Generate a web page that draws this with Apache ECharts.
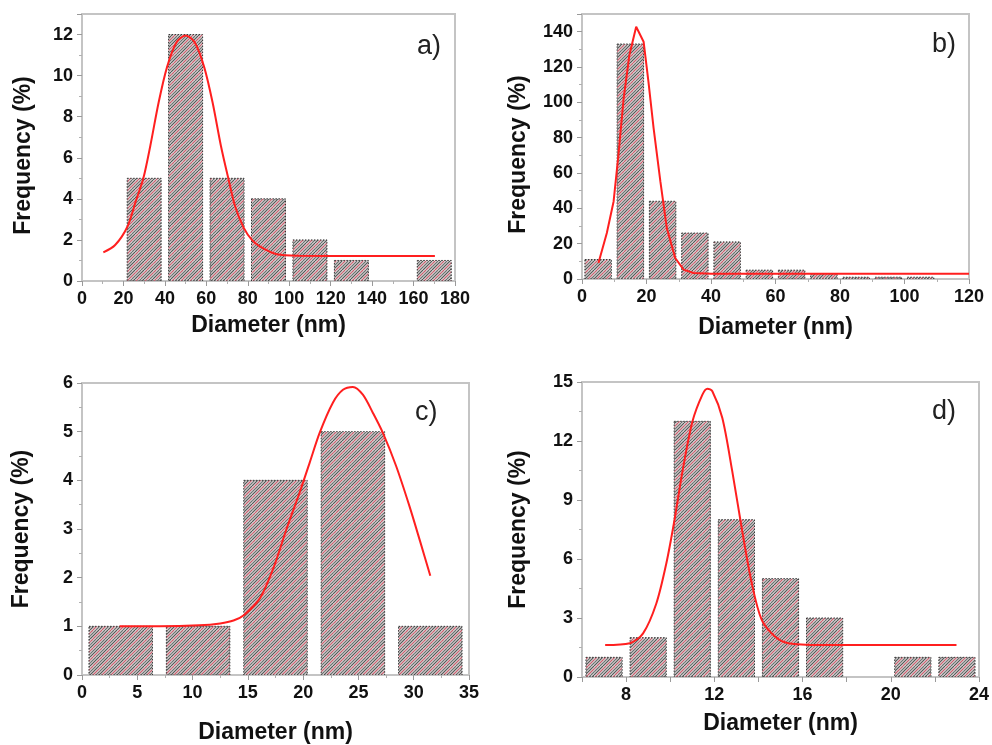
<!DOCTYPE html>
<html>
<head>
<meta charset="utf-8">
<title>Particle size distributions</title>
<script src="https://cdn.jsdelivr.net/npm/echarts@6/dist/echarts.min.js"></script>
<style>
  html, body { margin: 0; padding: 0; background: #ffffff; }
  #chart { width: 992px; height: 745px; }
</style>
</head>
<body>
<div id="chart"></div>
<script>
// ---- Histogram data: bin centres (nm) and frequency (%) ----
const binsA = [30, 50, 70, 90, 110, 130, 150, 170];
const freqA = [5, 12, 5, 4, 2, 1, 0, 1];

const binsB = [5, 15, 25, 35, 45, 55, 65, 75, 85, 95, 105];
const freqB = [11, 133, 44, 26, 21, 5, 5, 3, 1, 1, 1];

const binsC = [3.5, 10.5, 17.5, 24.5, 31.5];
const freqC = [1, 1, 4, 5, 1];

const binsD = [7, 9, 11, 13, 15, 17, 19, 21, 23];
const freqD = [1, 2, 13, 8, 5, 3, 0, 1, 1];

// ---- Fitted distribution curves, [diameter, frequency] ----
const fitA = [[10.3, 1.39], [16, 1.75], [21.9, 2.64], [26, 3.9], [29.6, 5.0],
  [33, 6.6], [37, 8.7], [41, 10.4], [45.5, 11.6], [50, 11.95], [54.5, 11.6], [59, 10.4],
  [63, 8.7], [67, 6.6], [70.6, 5.0], [74, 3.6], [78, 2.6], [82, 2.0], [86, 1.67],
  [94, 1.3], [105, 1.23], [130, 1.22], [170.3, 1.22]];

const fitB = [[5.1, 9], [7.7, 26], [9.8, 43.9], [11.3, 70.3], [12.9, 102], [14.7, 126.8],
  [16.8, 142.8], [19.1, 134.3], [20.6, 111.7], [22.2, 85.4], [24.3, 55.2], [26.3, 28.8],
  [28.9, 11.9], [31.5, 5.3], [34.6, 3.4], [40, 3], [120, 3]];

const fitC = [[3.4, 1.0], [7, 1.0], [10.6, 1.02], [12.5, 1.06], [13.7, 1.12], [14.7, 1.24],
  [16.1, 1.58], [17.3, 2.19], [18.5, 3.0], [19.7, 3.76], [20.6, 4.37], [21.5, 4.98],
  [22.7, 5.6], [23.6, 5.86], [24.5, 5.92], [25.4, 5.76], [26.3, 5.39], [27.2, 4.98],
  [28.4, 4.3], [29.6, 3.48], [30.6, 2.73], [31.5, 2.04]];

const fitD = [[7.05, 1.63], [8.17, 1.72], [8.77, 2.22], [9.37, 3.74], [9.82, 5.76],
  [10.19, 7.96], [10.56, 10.48], [11.01, 13.0], [11.46, 14.36], [11.69, 14.66],
  [11.91, 14.53], [12.36, 13.18], [12.81, 10.48], [13.26, 7.45], [13.7, 4.75],
  [14.15, 2.9], [14.75, 2.06], [15.35, 1.72], [16.85, 1.63], [22.98, 1.63]];

// ---- Axis text ----
const xTitle = 'Diameter (nm)';
const yTitle = 'Frequency (%)';
const panelTags = ['a)', 'b)', 'c)', 'd)'];

const FONT = '"Liberation Sans", Arial, Helvetica, sans-serif';
const FRAME = '#c4c4c4';
const BAR_FRACTION = 0.82;

// Diagonal hatch used to fill the bars: grey and red strokes on a light ground
function makeHatch() {
  const s = 9;
  const cv = document.createElement('canvas');
  cv.width = s; cv.height = s;
  const g = cv.getContext('2d');
  g.fillStyle = '#dcdcdc';
  g.fillRect(0, 0, s, s);
  const strokes = [[0, '#505050'], [3, '#cc5a6a'], [6, '#6a6a6a']];
  g.lineWidth = 1.1;
  strokes.forEach(([o, col]) => {
    g.strokeStyle = col;
    [-s, 0, s].forEach(sh => {
      g.beginPath();
      g.moveTo(o + sh, s);
      g.lineTo(o + sh + s, 0);
      g.stroke();
    });
  });
  return { image: cv, repeat: 'repeat' };
}
const hatch = makeHatch();

function pairs(xs, ys) { return xs.map((x, i) => [x, ys[i]]); }

function barRenderer(binWidth) {
  return function (params, api) {
    const c = api.value(0), v = api.value(1);
    if (!v) return null;
    const half = binWidth * BAR_FRACTION / 2;
    const p0 = api.coord([c - half, v]);
    const p1 = api.coord([c + half, 0]);
    return {
      type: 'rect',
      shape: { x: p0[0], y: p0[1], width: p1[0] - p0[0], height: p1[1] - p0[1] },
      style: { fill: hatch, stroke: '#333333', lineWidth: 1, lineDash: [1.5, 1.5] }
    };
  };
}

function xAxisCfg(gi, min, max, interval, every, gap, minor) {
  return {
    type: 'value', gridIndex: gi, min, max, interval,
    name: xTitle, nameLocation: 'middle', nameGap: gap,
    nameTextStyle: { fontFamily: FONT, fontWeight: 'bold', fontSize: 23, color: '#111' },
    axisLine: { show: true, onZero: false, lineStyle: { color: FRAME, width: 2 } },
    axisTick: { show: true, inside: false, length: 5, lineStyle: { color: '#9a9a9a', width: 1 } },
    minorTick: { show: minor, splitNumber: 2, length: 3, lineStyle: { color: '#b0b0b0' } },
    splitLine: { show: false },
    axisLabel: {
      margin: 9, fontFamily: FONT, fontWeight: 'bold', fontSize: 18, color: '#111',
      showMaxLabel: true, showMinLabel: true,
      formatter: v => (Math.abs(v / every - Math.round(v / every)) < 1e-6 ? String(v) : '')
    }
  };
}

function yAxisCfg(gi, max, interval, gap, pad) {
  return {
    type: 'value', gridIndex: gi, min: 0, max, interval,
    name: yTitle, nameLocation: 'middle', nameGap: gap, nameRotate: 90,
    nameTextStyle: { fontFamily: FONT, fontWeight: 'bold', fontSize: 23, color: '#111', padding: pad },
    axisLine: { show: true, lineStyle: { color: FRAME, width: 2 } },
    axisTick: { show: true, inside: false, length: 5, lineStyle: { color: '#9a9a9a', width: 1 } },
    minorTick: { show: true, splitNumber: 2, length: 3, lineStyle: { color: '#b0b0b0' } },
    splitLine: { show: false },
    axisLabel: {
      margin: 9, fontFamily: FONT, fontWeight: 'bold', fontSize: 18, color: '#111',
      formatter: v => (Math.abs(v / interval - Math.round(v / interval)) < 1e-6 ? String(v) : '')
    }
  };
}

function gridCfg(left, top, width, height) {
  return { left, top, width, height, show: true, borderColor: FRAME, borderWidth: 2, containLabel: false };
}

function histSeries(idx, data, binWidth) {
  return {
    type: 'custom', xAxisIndex: idx, yAxisIndex: idx, data,
    renderItem: barRenderer(binWidth), clip: true, z: 2, silent: true
  };
}

function fitSeries(idx, data, smooth) {
  return {
    type: 'line', xAxisIndex: idx, yAxisIndex: idx, data,
    smooth, showSymbol: false, symbol: 'none', z: 5, silent: true,
    lineStyle: { color: '#ff1f1f', width: 2 }
  };
}

function tag(text, left, top) {
  return {
    type: 'text', left, top, z: 10,
    style: { text, fontFamily: FONT, fontSize: 27, fill: '#222' }
  };
}

const chart = echarts.init(document.getElementById('chart'), null, { renderer: 'canvas' });

chart.setOption({
  animation: false,
  backgroundColor: '#ffffff',
  grid: [
    gridCfg(82, 14, 373, 267),
    gridCfg(582, 14, 387, 265),
    gridCfg(82, 383, 387, 294),
    gridCfg(582, 382, 400, 295)
  ],
  xAxis: [
    xAxisCfg(0, 0, 180, 20, 20, 33, true),
    xAxisCfg(1, 0, 120, 20, 20, 37, true),
    xAxisCfg(2, 0, 35, 5, 5, 46, true),
    xAxisCfg(3, 6, 24, 2, 4, 35, false)
  ],
  yAxis: [
    yAxisCfg(0, 13, 2, 47, [0, 16, 0, 0]),
    yAxisCfg(1, 150, 20, 52, [0, 16, 0, 0]),
    yAxisCfg(2, 6, 1, 49, [0, 0, 0, 0]),
    yAxisCfg(3, 15, 3, 52, [0, 0, 0, 0])
  ],
  series: [
    histSeries(0, pairs(binsA, freqA), 20),
    histSeries(1, pairs(binsB, freqB), 10),
    histSeries(2, pairs(binsC, freqC), 7),
    histSeries(3, pairs(binsD, freqD), 2),
    fitSeries(0, fitA, 0.3),
    fitSeries(1, fitB, false),
    fitSeries(2, fitC, 0.3),
    fitSeries(3, fitD, 0.3)
  ],
  graphic: [
    tag(panelTags[0], 417, 33),
    tag(panelTags[1], 932, 31),
    tag(panelTags[2], 415, 399),
    tag(panelTags[3], 932, 398)
  ]
});
</script>
</body>
</html>
